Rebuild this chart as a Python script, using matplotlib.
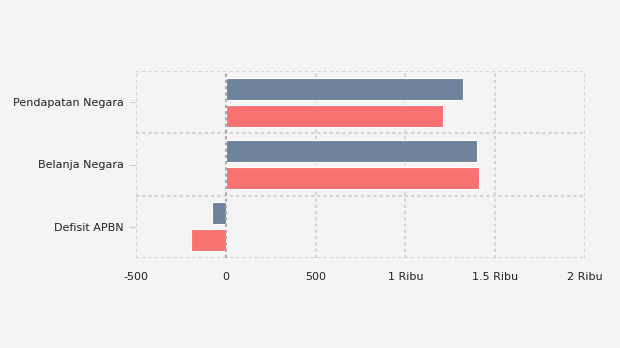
import numpy as np
import matplotlib
matplotlib.use("Agg")
import matplotlib.pyplot as plt
from matplotlib.ticker import FuncFormatter

# data
categories = ["Pendapatan Negara", "Belanja Negara", "Defisit APBN"]
series_a = [1320, 1398, -78]     # slate
series_b = [1209, 1409, -194]    # red
xticks = [-500, 0, 500, 1000, 1500, 2000]

bg = "#f4f4f4"
fig = plt.figure(figsize=(6.2, 3.48), dpi=100, facecolor=bg)
ax = fig.add_axes([136/620, 1 - 258/348, (585-136)/620, (258-71)/348])
ax.set_facecolor(bg)

y = np.arange(len(categories))
h = 0.355
ax.barh(y - 0.217, series_a, height=h, color="#6e829c", edgecolor="#ffffff", linewidth=0.8, zorder=3)
ax.barh(y + 0.217, series_b, height=h, color="#f87272", edgecolor="#ffffff", linewidth=0.8, zorder=3)

ax.set_xlim(-500, 2000)
ax.set_ylim(len(categories) - 0.5, -0.5)
ax.set_yticks(y)
ax.set_yticklabels(categories)

def fmt(v, pos):
    if abs(v) >= 1000:
        s = f"{v/1000:g}"
        return f"{s} Ribu"
    return f"{v:g}"

ax.set_xticks(xticks)
ax.xaxis.set_major_formatter(FuncFormatter(fmt))

# grid: vertical at ticks, horizontal at category boundaries
gl = dict(color="#d4d4d4", lw=1.5, ls=(0, (1.5, 1.5)), zorder=1)
for xv in xticks:
    if xv == 0:
        continue
    ax.axvline(xv, **gl)
for yb in np.arange(-0.5, len(categories), 1.0):
    ax.axhline(yb, **gl)
ax.axvline(0, color="#aaaaaa", lw=1.5, ls=(0, (1.5, 1.5)), zorder=4)

for s in ax.spines.values():
    s.set_visible(False)

ax.tick_params(axis="x", length=0, pad=10, labelsize=8, labelcolor="#222222")
ax.tick_params(axis="y", length=5, width=0.8, color="#d0d0d0", pad=4, labelsize=8, labelcolor="#222222")

fig.savefig("out.png", dpi=100, facecolor=bg)
